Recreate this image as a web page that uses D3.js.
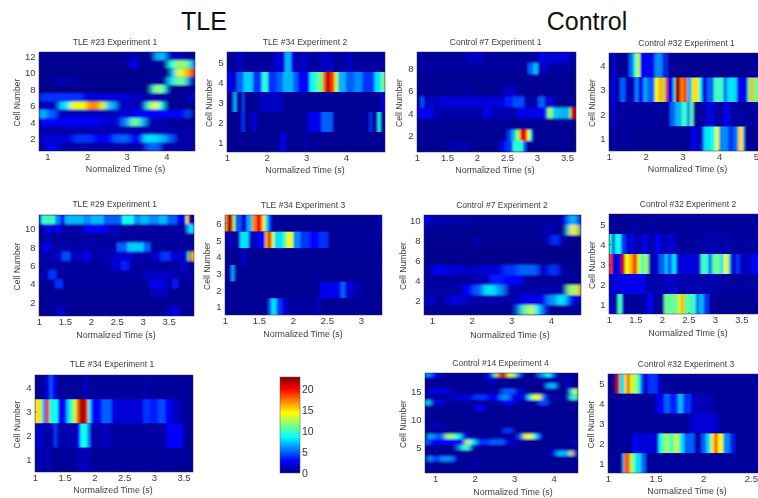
<!DOCTYPE html>
<html>
<head>
<meta charset="utf-8">
<script src="https://cdnjs.cloudflare.com/ajax/libs/d3/7.8.5/d3.min.js"></script>
<style>
  html, body { margin: 0; background: #fff; overflow: hidden; }
  text { font-family: "Liberation Sans", Arial, sans-serif; }
</style>
</head>
<body>
<svg id="fig" width="758" height="498"></svg>
<script>
// every row is a list of [time, firing rate] steps, a step lasts until the next one
// rows are listed top to bottom, so the highest cell number comes first
const tle23 = [
  [[0,.5],[3.08,1.5],[3.24,.6],[3.7,7],[4,1.5],[4.5,.6]],
  [[0,.5],[3.08,3],[3.24,.6],[4.04,9],[4.2,12],[4.5,10],[4.62,6]],
  [[0,.3],[4.12,8],[4.25,14],[4.45,16],[4.6,20]],
  [[0,.4],[1.15,1],[1.7,.4],[3.6,.8],[4.04,8],[4.2,11],[4.5,6],[4.6,1]],
  [[0,.3],[3.62,10],[3.72,12],[3.9,9],[4,.5]],
  [[0,4],[1.9,2],[3.16,1.2],[3.9,.6],[4.62,3]],
  [[0,1.5],[1.3,8],[1.57,14],[1.99,17],[2.32,13],[2.49,7],[2.74,1.5],[3.47,10],[3.62,14],[3.79,9],[3.95,.5]],
  [[0,7],[.98,5],[1.23,1.5],[2.74,2],[3.16,3],[4.5,5],[4.58,1]],
  [[0,3],[2.32,2],[2.87,6],[3.08,11],[3.33,7],[3.49,1],[4,.5]],
  [[0,1]],
  [[0,2],[1.65,4],[2.15,3],[2.66,5],[3.08,3],[3.41,8],[3.79,7],[4,5],[4.2,1]],
  [[0,1],[.98,3],[1.23,1],[3.49,5],[3.85,1]]
];
const tle34Exp2 = [
  [[0,.7],[1.24,1.5],[1.41,.7],[2.2,2],[2.46,7],[2.62,3],[2.71,.7],[2.83,1.5],[3.08,.7],[3.33,1.5],[3.67,.7],[4,1.5],[4.17,.7]],
  [[0,3],[1.12,1.5],[1.24,5],[1.41,7.5],[1.66,4],[1.87,9.5],[2.04,4],[2.25,5],[2.41,7],[2.67,5],[2.79,3],[3.08,9],[3.25,11],[3.42,18],[3.5,22],[3.59,19],[3.71,13],[3.8,7],[4,5],[4.21,6],[4.42,4],[4.72,8],[4.88,11]],
  [[0,.5],[1.16,7],[1.24,.5],[1.39,5],[1.43,.5],[1.83,1.5],[2.41,.5],[4.88,2]],
  [[0,.5],[1.37,4],[1.45,.5],[1.62,2],[1.74,.5],[3.04,2.5],[3.38,5],[3.67,.5],[4.59,4],[4.66,.5],[4.8,9],[4.88,.5]],
  [[0,.5],[2.33,2],[2.5,.5],[2.96,1.5],[3,.5]]
];
const ctl7Exp1 = [
  [[0,.7],[1.82,1.5],[2.1,.7],[3.02,2.5],[3.1,2],[3.54,1]],
  [[0,.7],[2.85,5],[2.93,7],[3.02,1.5],[3.21,.7]],
  [[0,.5]],
  [[0,.5],[1.79,1],[1.88,.5],[2.43,1.5],[2.68,.5]],
  [[0,1],[1.06,5],[1.11,1.5],[1.38,2],[2.46,3.5],[2.6,4.5],[2.79,1],[3.02,5],[3.13,2],[3.29,.5]],
  [[0,2.5],[1.16,3],[1.27,1],[2.1,2.5],[2.21,1.3],[2.49,1],[2.66,2.5],[3.13,5],[3.17,12],[3.26,7.5],[3.35,7],[3.54,12],[3.57,21]],
  [[0,.5]],
  [[0,.5],[2.49,4],[2.57,7],[2.64,12],[2.72,20],[2.83,14],[2.88,8],[2.92,.5]],
  [[0,.5],[1.54,1],[1.88,.5],[2.38,2.5],[2.46,4],[2.59,9.5],[2.77,5],[2.82,.5]]
];
const ctl32Exp1 = [
  [[0,.5],[1.1,3],[1.17,.5],[1.54,5],[1.66,9],[1.74,13],[1.85,3],[2.21,.8],[2.24,6],[2.44,5],[2.48,1],[2.53,4],[2.6,.5]],
  [[0,1.5],[1.1,2.5],[1.17,.8],[1.3,5],[1.44,1.2],[1.71,6],[1.8,3],[1.94,7],[2.03,5],[2.24,14],[2.35,16],[2.48,11],[2.53,19],[2.6,2.5],[2.75,9],[2.8,22],[2.94,17],[3.03,19],[3.12,7],[3.25,15],[3.44,9],[3.53,2],[3.66,5],[3.85,10],[4.12,5],[4.21,8],[4.48,2.5],[4.77,11],[4.85,16],[4.94,11]],
  [[0,.7],[1.07,2],[1.17,.7],[2.66,5],[2.8,7],[2.98,10],[3.12,6],[3.21,11],[3.3,.7],[3.62,2],[3.89,.7],[4.12,2.5],[4.3,.7]],
  [[0,.5],[1.1,1],[1.17,.5],[1.39,1],[1.46,.5],[3.25,3],[3.35,1.5],[3.57,8],[3.75,9],[3.89,14],[4,6],[4.25,4],[4.39,5.5],[4.52,15],[4.65,6],[4.7,.5]]
];
const tle29 = [
  [[0,5],[1.05,10],[1.31,6],[1.41,3.5],[1.5,7],[1.86,6],[1.99,7],[2.25,5],[2.6,9],[2.83,6],[2.95,7],[3.12,6],[3.31,7],[3.47,5],[3.66,3],[3.83,14],[3.88,20],[3.9,1]],
  [[0,1],[1.12,2.5],[1.25,.8],[1.31,3],[1.41,1],[1.86,2.5],[2.31,1.5],[2.54,.8],[3.73,.5],[3.83,6],[3.89,8]],
  [[0,.7],[1.15,1.5],[1.25,.7]],
  [[0,1.5],[1.12,3],[1.2,1],[2.5,5],[2.7,7.5],[3.02,5],[3.15,.7]],
  [[0,1],[1.31,2],[1.44,4.5],[1.6,1.5],[1.86,2.5],[1.99,1],[2.44,1.8],[2.83,1],[3.21,2],[3.34,4],[3.54,2],[3.73,1.5],[3.86,9],[3.9,21],[3.94,15]],
  [[0,.7],[2.41,3],[2.47,1.5],[2.57,3.5],[2.73,1.5],[2.83,.7],[3.73,2],[3.83,.7]],
  [[0,1],[1.18,4],[1.34,.7],[3.02,1.5],[3.6,.7],[3.83,1.5],[3.89,.7]],
  [[0,.7],[1.31,4],[1.46,.7],[3.12,2.5],[3.47,.7],[3.57,3.5],[3.68,.7]],
  [[0,.5],[3.15,1.5],[3.47,.5]],
  [[0,.5],[1.13,1],[1.21,.5]],
  [[0,.5],[1.34,2],[1.5,.5],[3.44,1.5],[3.57,2.5],[3.7,.5]]
];
const tle34Exp3 = [
  [[0,16],[1.03,22],[1.11,13],[1.15,5],[1.24,2],[1.32,7],[1.4,17],[1.46,20],[1.54,15],[1.59,8],[1.64,4],[1.68,.5],[3.26,2]],
  [[0,1],[1.22,8],[1.35,1.5],[1.47,3],[1.59,16],[1.63,21],[1.68,14],[1.72,8],[1.86,11],[1.91,14],[2,6],[2.11,4],[2.25,3],[2.38,4],[2.52,.6]],
  [[0,.5],[1.25,2],[1.31,.5]],
  [[0,.5],[1.09,6.5],[1.14,.5],[3.24,1],[3.28,.5]],
  [[0,.5],[2.4,2.5],[2.7,5],[2.77,2],[2.89,1],[3.04,.5]],
  [[0,.5],[1.64,5],[1.68,8],[1.76,4],[1.84,2],[1.91,.8],[2.35,1.5],[2.41,.5]]
];
const ctl7Exp2 = [
  [[0,3],[.94,1],[1.95,.7],[4.31,3],[4.44,7],[4.65,4],[4.72,2]],
  [[0,.4],[3.72,1],[4.14,.4],[4.4,8],[4.48,15],[4.65,12],[4.72,.5]],
  [[0,.4],[2.04,1],[2.29,.4],[3.89,2],[4.02,4],[4.18,2],[4.27,.4]],
  [[0,.3]],
  [[0,.3]],
  [[0,1],[1.03,2.5],[1.36,2],[1.74,1.5],[2.2,2],[2.79,4],[3.13,5],[3.68,1.5],[3.93,4],[4.18,1.5],[4.31,.5]],
  [[0,.7],[1.95,1],[2.46,3.5],[2.79,3],[3.3,.6]],
  [[0,.8],[1.78,3],[2.04,5],[2.29,8],[2.63,6],[2.84,1],[4.4,12],[4.65,15],[4.72,17]],
  [[0,1.5],[1.07,.8],[1.36,2],[1.91,1],[3.22,2.5],[3.89,6],[4.14,8],[4.4,4],[4.52,2]],
  [[0,.5],[3.13,6],[3.26,11],[3.43,13],[3.59,8],[3.76,4],[3.89,.5]]
];
const ctl32Exp2 = [
  [[0,.6],[1.44,1],[1.5,.6],[1.72,1],[1.79,.6]],
  [[0,9],[1.06,2],[1.11,9],[1.23,4],[1.33,1],[1.41,3],[1.47,1],[1.63,2.5],[1.72,1],[1.88,3],[1.97,1],[2.1,2],[2.23,.7],[2.79,1],[3.14,.7],[3.2,1.5],[3.26,.7]],
  [[0,19],[1.06,1.5],[1.14,2.5],[1.23,21],[1.3,14],[1.38,16],[1.45,19],[1.53,13],[1.6,10],[1.66,12],[1.75,1.5],[1.94,5],[2.06,8],[2.1,5],[2.19,8],[2.27,2],[2.73,10],[2.87,6],[2.95,11],[3.11,8],[3.17,14],[3.26,7],[3.3,1.5],[3.39,4],[3.47,1.5],[3.7,3]],
  [[0,2],[1.22,2.5],[1.69,1],[2.04,1.5],[2.32,1],[3.14,.7]],
  [[0,3],[1.06,.6],[1.16,10],[1.25,.7],[1.72,3],[1.82,.7],[2.04,11],[2.29,13],[2.35,16],[2.42,11],[2.51,10],[2.64,5],[2.7,7],[2.79,4],[2.89,.5]]
];
const tle34Exp1 = [
  [[0,.6],[1.19,3],[1.25,5],[1.29,3],[1.36,.6],[1.81,1.5],[1.89,.6],[2.82,1.2],[2.88,.6]],
  [[0,14],[1.03,15],[1.11,8],[1.15,5],[1.18,19],[1.24,9],[1.39,3],[1.53,8],[1.6,11],[1.65,13],[1.7,18],[1.75,22],[1.85,19],[1.89,8],[1.95,3],[2.12,5],[2.29,2],[2.82,4],[2.93,3.5],[3.07,4.5],[3.19,3],[3.3,1.5],[3.44,.6]],
  [[0,2.5],[1.03,1.5],[1.13,1],[1.31,4],[1.37,1],[1.7,3],[1.76,9],[1.88,6],[1.93,1],[2.15,1.5],[2.26,.8],[3.21,3],[3.47,2.5],[3.49,.5]],
  [[0,1],[1.07,.6],[1.09,2],[1.12,.6],[1.19,1.5],[1.25,.6],[1.7,1.2],[1.95,.6]]
];
const ctl14Exp4 = [
  [[0,6],[.91,3],[1.12,.7],[2.3,3],[2.47,10],[2.55,17],[2.64,22],[2.81,14],[2.93,12],[3.06,5],[3.19,.7],[3.61,6],[3.78,9],[3.95,4],[4.07,.6]],
  [[0,.5],[2.22,1.5],[2.55,.5],[3.9,1],[4.07,.5],[4.24,1.5],[4.41,.5]],
  [[0,.5],[3.82,7],[4.07,.5],[4.32,2],[4.41,.5]],
  [[0,.5],[.82,2.5],[1.29,1.5],[1.46,.6],[2.68,5],[3.02,2],[3.23,.5],[4.41,8],[4.49,13]],
  [[0,.7],[1.37,2],[1.96,4],[2.3,3],[2.64,6],[2.89,2.5],[3.35,10],[3.48,14],[3.69,5],[3.82,1],[4.41,10]],
  [[0,.5],[.76,8],[.88,1.5],[1.03,2.5],[1.24,.8],[2.72,3],[3.02,.8],[3.61,4.5],[3.86,.6]],
  [[0,.5],[2,3],[2.26,.5]],
  [[0,.4]],
  [[0,.4]],
  [[0,.5],[.91,1.5],[1.2,.5]],
  [[0,.5],[2.72,4],[2.97,.5]],
  [[0,.8],[.82,7],[.95,5],[1.24,12],[1.5,9],[1.67,2],[1.88,.6],[3.1,5],[3.23,14],[3.48,8],[3.61,2],[3.73,.5]],
  [[0,5],[.86,3],[1.75,13],[1.88,8],[2.05,4],[2.38,5],[2.76,2],[3.06,.5],[4.49,2]],
  [[0,.5],[1.54,6],[1.67,10],[1.88,2],[2,.5]],
  [[0,.5],[3.9,2],[4.07,7],[4.32,6],[4.41,14],[4.49,2]],
  [[0,.5],[.8,6],[.95,4],[1.12,6],[1.46,2],[1.58,.5]],
  [[0,.5],[1.88,1],[2.22,.5]],
  [[0,.5]]
];
const ctl32Exp3 = [
  [[0,.6],[1.08,21],[1.12,9],[1.15,7],[1.17,15],[1.2,18],[1.23,13],[1.3,10],[1.34,5],[1.37,2],[1.42,4],[1.52,2],[1.56,.6]],
  [[0,.6],[1.51,3],[1.59,5],[1.65,3.5],[1.73,7],[1.79,4],[1.87,1.5],[1.93,1.3],[2.1,.6]],
  [[0,.6],[1.87,2],[2.15,.6]],
  [[0,.6],[1.26,3],[1.31,2],[1.53,9],[1.58,12],[1.65,10],[1.69,13],[1.75,8],[1.8,5],[1.91,1],[1.98,5],[2.03,8],[2.08,15],[2.12,19],[2.15,14],[2.21,6],[2.28,3.5],[2.33,.6]],
  [[0,.6],[1.15,7],[1.17,18],[1.23,12],[1.28,8],[1.35,5],[1.4,.6]]
];

// axis ticks of each panel
const ticksHalf = [1, 1.5, 2, 2.5, 3, 3.5];
const ticksWhole = [1, 2, 3, 4];
const colorTicks = [0, 5, 10, 15, 20];
const colorMax = 23;
const jetStops = ["#00007f", "#0000ff", "#00ffff", "#ffff00", "#ff0000", "#7f0000"];
const jetAt = [0, 1 / 8, 3 / 8, 5 / 8, 7 / 8, 1];

const color = d3.scaleLinear()
  .domain(jetAt.map((d) => d * colorMax))
  .range(jetStops)
  .clamp(true);

// box = left, top, right, bottom of the image; tx/ty title, lx/ly x label, yl y label
const panels = [
  { title: "TLE #23 Experiment 1", rows: tle23, box: [39, 52, 195, 151], xd: [.79, 4.72], xt: ticksWhole, yt: [2, 4, 6, 8, 10, 12], blur: "2.4 1", tx: 115, ty: 45, lx: 125.5, ly: 172, yl: 20 },
  { title: "TLE #34 Experiment 2", rows: tle34Exp2, box: [227, 52, 385, 152], xd: [1, 4.99], xt: ticksWhole, yt: [1, 2, 3, 4, 5], blur: ".9 .7", tx: 305, ty: 45, lx: 305, ly: 173, yl: 212 },
  { title: "Control #7 Experiment 1", rows: ctl7Exp1, box: [417, 52, 576, 152], xd: [1, 3.65], xt: ticksHalf, yt: [2, 4, 6, 8], blur: "1.3 .9", tx: 495.7, ty: 45, lx: 495, ly: 173, yl: 402 },
  { title: "Control #32 Experiment 1", rows: ctl32Exp1, box: [609, 53, 768, 151], xd: [1, 5.33], xt: [1, 2, 3, 4, 5], yt: [1, 2, 3, 4], blur: ".9 .7", tx: 686.5, ty: 46, lx: 687.5, ly: 172, yl: 594.7 },
  { title: "TLE #29 Experiment 1", rows: tle29, box: [39, 215, 194, 316], xd: [1, 3.99], xt: ticksHalf, yt: [2, 4, 6, 8, 10], blur: "1.3 .9", tx: 114.7, ty: 206.5, lx: 116, ly: 337.5, yl: 20 },
  { title: "TLE #34 Experiment 3", rows: tle34Exp3, box: [225, 215, 382, 315], xd: [1, 3.31], xt: [1, 1.5, 2, 2.5, 3], yt: [1, 2, 3, 4, 5, 6], blur: ".9 .7", tx: 303, ty: 208, lx: 303, ly: 337, yl: 210 },
  { title: "Control #7 Experiment 2", rows: ctl7Exp2, box: [424, 215, 581, 315], xd: [.8, 4.76], xt: ticksWhole, yt: [2, 4, 6, 8, 10], blur: "2.4 1", tx: 502, ty: 208, lx: 510, ly: 338, yl: 405.7 },
  { title: "Control #32 Experiment 2", rows: ctl32Exp2, box: [609, 214, 770, 314], xd: [1, 4.04], xt: ticksHalf, yt: [1, 2, 3, 4, 5], blur: ".9 .7", tx: 688, ty: 207, lx: 688, ly: 336, yl: 595 },
  { title: "TLE #34 Experiment 1", rows: tle34Exp1, box: [35, 375, 193, 472], xd: [1, 3.66], xt: ticksHalf, yt: [1, 2, 3, 4], blur: ".9 .7", tx: 112, ty: 367, lx: 113, ly: 493, yl: 20 },
  { title: "Control #14 Experiment 4", rows: ctl14Exp4, box: [425, 373, 578, 473], xd: [.74, 4.62], xt: ticksWhole, yt: [5, 10, 15], blur: "2 .9", tx: 500.5, ty: 365.5, lx: 513, ly: 494.5, yl: 405.7, yMax: 18.3 },
  { title: "Control #32 Experiment 3", rows: ctl32Exp3, box: [608, 374, 768, 473], xd: [1, 2.68], xt: [1, 1.5, 2, 2.5], yt: [1, 2, 3, 4, 5], blur: ".9 .7", tx: 686, ty: 366.5, lx: 687, ly: 494, yl: 594 }
];

const svg = d3.select("#fig");
const defs = svg.append("defs");
defs.append("filter").attr("id", "soft")
  .append("feGaussianBlur").attr("stdDeviation", .3);

const textFill = "#3c3c3c";

function styleAxis(g) {
  g.select(".domain").remove();
  g.selectAll("line").attr("stroke", "#222").attr("stroke-width", .5);
  g.selectAll("text").attr("fill", textFill).attr("font-size", 9.5)
    .attr("font-family", '"Liberation Sans", Arial, sans-serif');
}

panels.forEach((p, i) => {
  const [x0, y0, x1, y1] = p.box;
  const n = p.rows.length;
  const x = d3.scaleLinear().domain(p.xd).range([x0, x1]).clamp(true);
  const y = d3.scaleLinear().domain([.5, p.yMax || n + .5]).range([y1, y0]);

  defs.append("clipPath").attr("id", "clip" + i)
    .append("rect").attr("x", x0).attr("y", y0).attr("width", x1 - x0).attr("height", y1 - y0);
  defs.append("filter").attr("id", "blur" + i)
    .attr("filterUnits", "userSpaceOnUse")
    .attr("x", x0 - 12).attr("y", y0 - 12).attr("width", x1 - x0 + 24).attr("height", y1 - y0 + 24)
    .append("feGaussianBlur").attr("stdDeviation", p.blur);

  const heat = svg.append("g").attr("clip-path", `url(#clip${i})`)
    .append("g").attr("filter", `url(#blur${i})`);

  heat.append("rect")
    .attr("x", x0 - 8).attr("y", y0 - 8)
    .attr("width", x1 - x0 + 16).attr("height", y1 - y0 + 16)
    .attr("fill", color(.4));

  p.rows.forEach((row, r) => {
    const cell = n - r;
    const steps = row.map((s, k) => ({
      t0: s[0],
      t1: k + 1 < row.length ? row[k + 1][0] : p.xd[1],
      v: s[1]
    }));
    heat.append("g").selectAll("rect")
      .data(steps)
      .enter()
      .append("rect")
      .attr("x", (d) => x(d.t0))
      .attr("y", y(cell + .5))
      .attr("width", (d) => x(d.t1) - x(d.t0) + .5)
      .attr("height", y(cell - .5) - y(cell + .5))
      .attr("fill", (d) => color(d.v));
  });

  svg.append("rect")
    .attr("x", x0).attr("y", y0)
    .attr("width", x1 - x0).attr("height", y1 - y0)
    .attr("fill", "none").attr("stroke", "#333").attr("stroke-width", .5);

  const labels = svg.append("g").attr("filter", "url(#soft)");

  labels.append("g")
    .attr("transform", `translate(0,${y1})`)
    .call(d3.axisBottom(x).tickValues(p.xt).tickFormat(d3.format("")).tickSize(-2).tickPadding(2.5))
    .call(styleAxis);

  labels.append("g")
    .attr("transform", `translate(${x0},0)`)
    .call(d3.axisLeft(y).tickValues(p.yt).tickFormat(d3.format("")).tickSize(-2).tickPadding(3.5))
    .call(styleAxis);

  labels.append("text")
    .attr("x", p.tx).attr("y", p.ty)
    .attr("text-anchor", "middle").attr("font-size", 8.5).attr("fill", textFill)
    .text(p.title);

  labels.append("text")
    .attr("x", p.lx).attr("y", p.ly)
    .attr("text-anchor", "middle").attr("font-size", 8.9).attr("fill", textFill)
    .text("Normalized Time (s)");

  labels.append("text")
    .attr("transform", `translate(${p.yl},${(y0 + y1) / 2 + 1}) rotate(-90)`)
    .attr("text-anchor", "middle").attr("font-size", 8.6).attr("fill", textFill)
    .text("Cell Number");
});

// colorbar
const barY = d3.scaleLinear().domain([0, colorMax]).range([473, 377]);
const gradient = defs.append("linearGradient").attr("id", "jet")
  .attr("x1", 0).attr("x2", 0).attr("y1", 1).attr("y2", 0);
gradient.selectAll("stop").data(jetStops).enter().append("stop")
  .attr("offset", (d, i) => jetAt[i]).attr("stop-color", (d) => d);

svg.append("rect")
  .attr("x", 280).attr("y", barY(colorMax))
  .attr("width", 20).attr("height", barY(0) - barY(colorMax))
  .attr("fill", "url(#jet)")
  .attr("stroke", "#555").attr("stroke-width", .5);

svg.append("g").attr("filter", "url(#soft)")
  .attr("transform", "translate(300,0)")
  .call(d3.axisRight(barY).tickValues(colorTicks).tickSize(0).tickPadding(2))
  .call((g) => {
    g.select(".domain").remove();
    g.selectAll("text").attr("fill", "#333").attr("font-size", 10.5)
      .attr("font-family", '"Liberation Sans", Arial, sans-serif');
  });

// group headings
svg.append("text").attr("x", 204).attr("y", 30).attr("text-anchor", "middle")
  .attr("font-size", 25).attr("fill", "#111").text("TLE");
svg.append("text").attr("x", 587).attr("y", 30).attr("text-anchor", "middle")
  .attr("font-size", 25).attr("fill", "#111").text("Control");
</script>
</body>
</html>
